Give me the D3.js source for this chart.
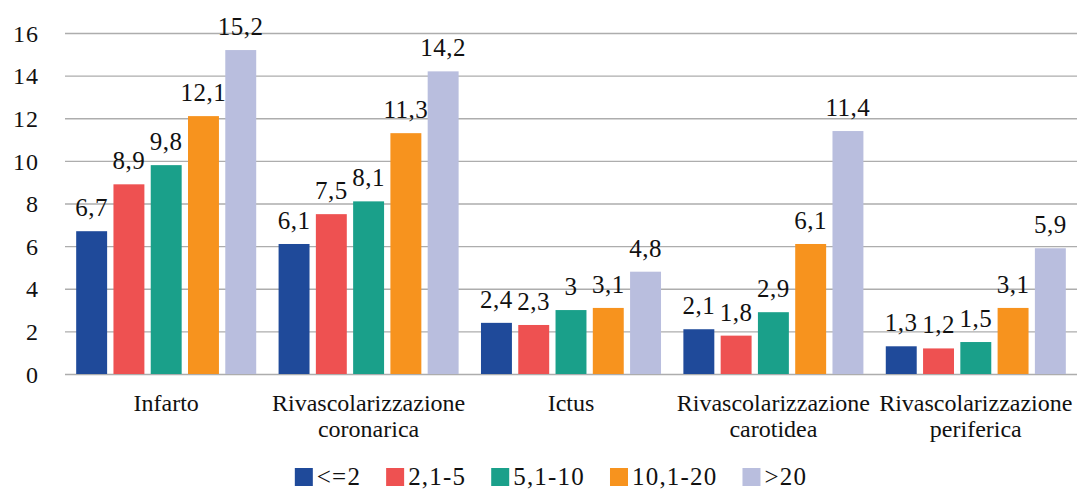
<!DOCTYPE html>
<html>
<head>
<meta charset="utf-8">
<script src="https://cdn.jsdelivr.net/npm/d3@7"></script>
<style>
  html, body { margin: 0; padding: 0; background: #fff; }
  svg text { font-family: "Liberation Serif", "DejaVu Serif", serif; }
</style>
</head>
<body>
<svg id="chart" width="1077" height="491"></svg>
<script>
// Event rates by category and by group
const categories = [
  "Infarto",
  "Rivascolarizzazione coronarica",
  "Ictus",
  "Rivascolarizzazione carotidea",
  "Rivascolarizzazione periferica"
];
const seriesNames = ["<=2", "2,1-5", "5,1-10", "10,1-20", ">20"];
const seriesColors = ["#1F4A9A", "#EE5151", "#1AA08A", "#F7931E", "#B9BEDE"];
const valLe2    = [6.7, 6.1, 2.4, 2.1, 1.3];
const val2to5   = [8.9, 7.5, 2.3, 1.8, 1.2];
const val5to10  = [9.8, 8.1, 3.0, 2.9, 1.5];
const val10to20 = [12.1, 11.3, 3.1, 6.1, 3.1];
const valGt20   = [15.2, 14.2, 4.8, 11.4, 5.9];
const yTicks = [0, 2, 4, 6, 8, 10, 12, 14, 16];

const seriesValues = [valLe2, val2to5, val5to10, val10to20, valGt20];
const FONT = "'Liberation Serif', 'DejaVu Serif', serif";

const svg = d3.select("#chart");
const plot = { left: 65, right: 1077, top: 33, bottom: 374 };

const x0 = d3.scaleBand().domain(categories).range([plot.left, plot.right]).padding(0);
const x1 = d3.scaleBand().domain(seriesNames).range([0, x0.bandwidth()])
  .paddingInner(0.17).paddingOuter(0.3);
const y = d3.scaleLinear().domain([0, 16]).range([plot.bottom, plot.top]);
const fmt = v => String(v).replace(".", ",");

// Horizontal gridlines and value axis
const yAxis = d3.axisLeft(y).tickValues(yTicks)
  .tickSize(-(plot.right - plot.left)).tickPadding(26).tickFormat(d => d);
svg.append("g")
  .attr("transform", `translate(${plot.left},0)`)
  .call(yAxis)
  .attr("font-family", FONT)
  .call(g => g.select(".domain").remove())
  .call(g => g.selectAll(".tick line").attr("stroke", "#ADADAD").attr("stroke-width", 1.3))
  .call(g => g.selectAll(".tick text")
    .attr("fill", "#111").attr("font-size", 24)
    .attr("font-family", FONT)
    .attr("letter-spacing", "1px")
    .attr("dy", "0.34em"));

// Bars
const groups = svg.append("g").selectAll("g")
  .data(categories)
  .join("g")
  .attr("transform", d => `translate(${x0(d)},0)`);

groups.selectAll("rect")
  .data((c, ci) => seriesNames.map((s, si) => ({ s, si, v: seriesValues[si][ci] })))
  .join("rect")
  .attr("x", d => x1(d.s))
  .attr("width", x1.bandwidth())
  .attr("y", d => y(d.v))
  .attr("height", d => y(0) - y(d.v))
  .attr("fill", d => seriesColors[d.si]);

// Value labels
groups.selectAll("text.val")
  .data((c, ci) => seriesNames.map((s, si) => ({ s, si, v: seriesValues[si][ci] })))
  .join("text")
  .attr("class", "val")
  .attr("x", d => x1(d.s) + x1.bandwidth() / 2)
  .attr("y", d => y(d.v) - 15)
  .attr("text-anchor", "middle")
  .attr("font-family", FONT)
  .attr("font-size", 25)
  .attr("letter-spacing", "0.5px")
  .attr("fill", "#111")
  .text(d => fmt(d.v));

// Category labels (split after the first word)
svg.append("g").selectAll("text")
  .data(categories)
  .join("text")
  .attr("text-anchor", "middle")
  .attr("font-family", FONT)
  .attr("font-size", 24)
  .attr("fill", "#111")
  .each(function (d) {
    const i = d.indexOf(" ");
    const lines = i < 0 ? [d] : [d.slice(0, i), d.slice(i + 1)];
    const cx = x0(d) + x0.bandwidth() / 2;
    d3.select(this).selectAll("tspan")
      .data(lines)
      .join("tspan")
      .attr("x", cx)
      .attr("y", (l, k) => 411 + k * 26)
      .text(l => l);
  });

// Legend
const legend = svg.append("g");
const items = legend.selectAll("g")
  .data(seriesNames)
  .join("g");
items.append("rect")
  .attr("width", 18).attr("height", 18)
  .attr("y", 468)
  .attr("fill", (d, i) => seriesColors[i]);
items.append("text")
  .attr("x", 22).attr("y", 485)
  .attr("font-family", FONT)
  .attr("font-size", 25)
  .attr("letter-spacing", "1.2px")
  .attr("fill", "#111")
  .text(d => d);
let cursor = 0;
const offsets = [];
items.each(function () {
  offsets.push(cursor);
  const w = d3.select(this).select("text").node().getComputedTextLength();
  cursor += 22 + w + 25;
});
const total = cursor - 25;
const start = 551 - total / 2;
items.attr("transform", (d, i) => `translate(${start + offsets[i]},0)`);
</script>
</body>
</html>
